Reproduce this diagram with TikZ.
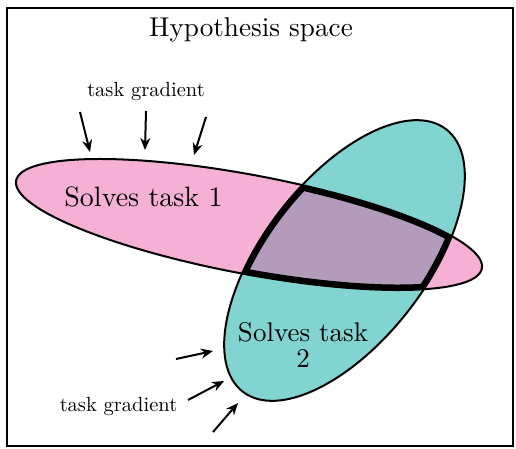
\documentclass[tikz,border=0pt]{standalone}
\usetikzlibrary{arrows.meta}
\definecolor{pinkfill}{RGB}{246,176,213}
\definecolor{tealfill}{RGB}{129,212,208}
\definecolor{overlapfill}{RGB}{179,156,187}
\begin{document}
\begin{tikzpicture}[x=1pt,y=1pt,
  grad/.style={line width=2pt,-{Stealth[length=12pt,width=10pt]}},
  lbl/.style={inner sep=0pt,anchor=base,font=\fontsize{10}{12}\selectfont},
  outline/.style={line width=2pt}]
\useasboundingbox (0,0) rectangle (516,448);
\draw[line width=2pt] (7,2) rectangle (513,440);
\def\pinkpath{(249,223.5) ellipse[x radius=237,y radius=49.5,rotate=-10.67]}
\def\tealpath{(344.5,187.5) ellipse[x radius=166,y radius=81.3,rotate=52.2]}
\fill[pinkfill] \pinkpath;
\fill[tealfill] \tealpath;
\begin{scope}
  \clip \pinkpath;
  \fill[overlapfill] \tealpath;
\end{scope}
\draw[outline] \pinkpath;
\draw[outline] \tealpath;
\begin{scope}
  \clip \pinkpath;
  \clip \tealpath;
  \draw[line width=11pt] \pinkpath;
  \draw[line width=11pt] \tealpath;
\end{scope}
\node[lbl,scale=2.72] (title) at (251,411.3) {Hypothesis space};
\node[lbl,scale=2.05] (g1) at (146,351) {task gradient};
\node[lbl,scale=2.8] (t1) at (143.5,241.3) {Solves task 1};
\node[inner sep=0pt,align=center,font=\fontsize{10}{9.6}\selectfont,scale=2.7] (t2) at (303,102.6) {Solves task\\2};
\node[lbl,scale=2.05] (g2) at (118.5,36.3) {task gradient};
\coordinate (a1s) at (80,336); \coordinate (a1e) at (90,296);
\coordinate (a2s) at (146,337); \coordinate (a2e) at (145,298);
\coordinate (a3s) at (206,331); \coordinate (a3e) at (194,293);
\coordinate (b1s) at (176,89); \coordinate (b1e) at (213,97);
\coordinate (b2s) at (188,48); \coordinate (b2e) at (224,67);
\coordinate (b3s) at (213,16); \coordinate (b3e) at (238,45);
\draw[grad] (a1s) -- (a1e);
\draw[grad] (a2s) -- (a2e);
\draw[grad] (a3s) -- (a3e);
\draw[grad] (b1s) -- (b1e);
\draw[grad] (b2s) -- (b2e);
\draw[grad] (b3s) -- (b3e);
\end{tikzpicture}
\end{document}
